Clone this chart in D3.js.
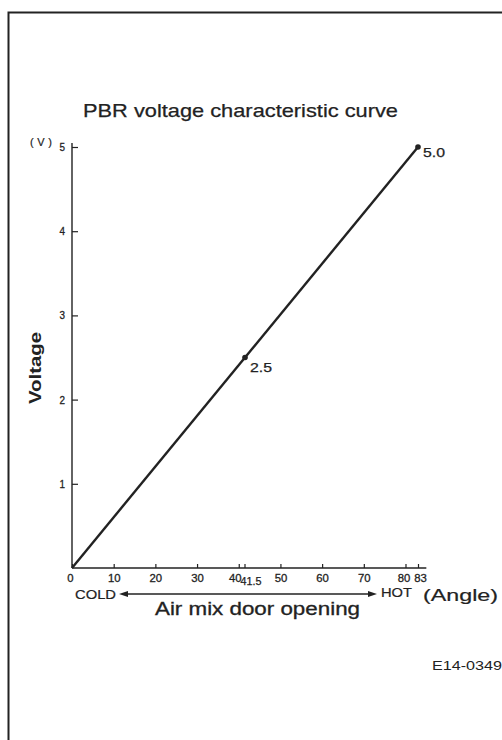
<!DOCTYPE html>
<html><head><meta charset="utf-8">
<script src="https://cdn.jsdelivr.net/npm/d3@7"></script>
<style>body{margin:0;background:#fff}svg{display:block}</style>
</head><body>
<script>
// ---- data ----
const angles = [0, 41.5, 83];
const volts = [0, 2.5, 5.0];
const pointLabels = ["", "2.5", "5.0"];
const xTickValues = [0, 10, 20, 30, 40, 50, 60, 70, 80, 83];
const xExtraTick = [41.5];
const yTickValues = [1, 2, 3, 4, 5];
const title = "PBR voltage characteristic curve";
const yTitle = "Voltage";
const yUnit = "(V)";
const xTitle = "Air mix door opening";
const xUnit = "(Angle)";
const coldLabel = "COLD", hotLabel = "HOT";
const figId = "E14-0349";

const W = 502, H = 740;
const svg = d3.select("body").append("svg").attr("width", W).attr("height", H);
const ink = "#222";
const sans = "'Liberation Sans', Arial, sans-serif";

// frame
svg.append("path").attr("d", `M8.5,740V12.5H502`).attr("fill","none").attr("stroke",ink).attr("stroke-width",2);

const x = d3.scaleLinear().domain([0, 83]).range([72, 418]);
const y = d3.scaleLinear().domain([0, 5]).range([568, 147]);

function heavy(sel, w) { return sel.attr("stroke", ink).attr("stroke-width", w).attr("paint-order", "stroke"); }

// title
heavy(svg.append("text").attr("x", 83).attr("y", 117).text(title)
  .attr("font-family", sans).attr("font-size", 19).attr("fill", ink)
  .attr("textLength", 315).attr("lengthAdjust", "spacingAndGlyphs"), 0.25);

// x axis
const xAxis = d3.axisBottom(x).tickValues(xTickValues).tickSize(-4).tickPadding(6).tickFormat(d3.format("d"));
const gx = svg.append("g").attr("transform", `translate(0,${y(0)})`).call(xAxis);
gx.select(".domain").attr("d", `M${x(0)},0H${x(85)}`).attr("stroke", ink).attr("stroke-width", 1.6);
gx.selectAll(".tick line").attr("stroke", ink).attr("stroke-width", 1.2);
heavy(gx.selectAll(".tick text").attr("font-family", sans).attr("font-size", 11.5).attr("fill", ink)
  .attr("dx", d => d === 0 ? -2 : d === 40 ? -4 : (d === 80 ? -2 : (d === 83 ? 2 : 0)))
  .attr("textLength", d => String(d).length * 6.3).attr("lengthAdjust", "spacingAndGlyphs"), 0.3);
// extra 41.5 tick
const gxe = svg.append("g");
gxe.selectAll("line").data(xExtraTick).join("line")
  .attr("x1", d => x(d)).attr("x2", d => x(d)).attr("y1", y(0)).attr("y2", y(0) - 4)
  .attr("stroke", ink).attr("stroke-width", 1.2);
heavy(gxe.selectAll("text").data(xExtraTick).join("text")
  .attr("x", d => x(d) + 6).attr("y", y(0) + 17).attr("text-anchor", "middle")
  .attr("font-family", sans).attr("font-size", 10.5).attr("fill", ink)
  .attr("textLength", 21).attr("lengthAdjust", "spacingAndGlyphs")
  .text(d => d.toFixed(1)), 0.25);

// y axis
const yAxis = d3.axisLeft(y).tickValues(yTickValues).tickSize(-6).tickPadding(7).tickFormat(d3.format("d"));
const gy = svg.append("g").attr("transform", `translate(${x(0)},0)`).call(yAxis);
gy.select(".domain").attr("d", `M0,${y(0)}V${y(5) - 4}`).attr("stroke", ink).attr("stroke-width", 1.4);
gy.selectAll(".tick line").attr("stroke", ink).attr("stroke-width", 1.2);
heavy(gy.selectAll(".tick text").attr("font-family", sans).attr("font-size", 11).attr("fill", ink)
  .attr("textLength", 5.5).attr("lengthAdjust", "spacingAndGlyphs"), 0.3);

// y unit
heavy(svg.append("text").attr("x", 30).attr("y", 146).text(yUnit)
  .attr("font-family", sans).attr("font-size", 11).attr("fill", ink)
  .attr("textLength", 22).attr("lengthAdjust", "spacing"), 0.2);

// y title
svg.append("text").attr("transform", `translate(41,368) rotate(-90)`).attr("text-anchor", "middle")
  .text(yTitle).attr("font-family", sans).attr("font-size", 17).attr("font-weight", "bold").attr("fill", ink)
  .attr("textLength", 72).attr("lengthAdjust", "spacingAndGlyphs");

// curve
const line = d3.line().x((d, i) => x(angles[i])).y((d, i) => y(volts[i]));
svg.append("path").datum(volts).attr("d", line).attr("fill", "none").attr("stroke", ink).attr("stroke-width", 2.4);
const pts = angles.map((a, i) => ({a, v: volts[i], l: pointLabels[i]})).filter(d => d.l);
svg.selectAll("circle.pt").data(pts).join("circle").attr("class", "pt")
  .attr("cx", d => x(d.a)).attr("cy", d => y(d.v)).attr("r", 2.8).attr("fill", ink);
heavy(svg.selectAll("text.pl").data(pts).join("text").attr("class", "pl")
  .attr("x", d => x(d.a) + 5).attr("y", d => y(d.v) + (d.v === 5 ? 10 : 14))
  .attr("font-family", sans).attr("font-size", 13).attr("fill", ink)
  .attr("textLength", 22).attr("lengthAdjust", "spacingAndGlyphs")
  .text(d => d.l), 0.25);

// COLD / HOT arrow
const ay = 594;
heavy(svg.append("text").attr("x", 75).attr("y", ay + 5).text(coldLabel)
  .attr("font-family", sans).attr("font-size", 12.5).attr("fill", ink)
  .attr("textLength", 41).attr("lengthAdjust", "spacingAndGlyphs"), 0.2);
svg.append("line").attr("x1", 122).attr("x2", 372).attr("y1", ay).attr("y2", ay).attr("stroke", ink).attr("stroke-width", 1.6);
svg.append("path").attr("d", `M119,${ay}l9,-3v6z`).attr("fill", ink);
svg.append("path").attr("d", `M377,${ay}l-9,-3v6z`).attr("fill", ink);
heavy(svg.append("text").attr("x", 381).attr("y", ay + 3).text(hotLabel)
  .attr("font-family", sans).attr("font-size", 12.5).attr("fill", ink)
  .attr("textLength", 31).attr("lengthAdjust", "spacingAndGlyphs"), 0.2);
heavy(svg.append("text").attr("x", 423).attr("y", ay + 7).text(xUnit)
  .attr("font-family", sans).attr("font-size", 17).attr("fill", ink)
  .attr("textLength", 75).attr("lengthAdjust", "spacingAndGlyphs"), 0.2);
heavy(svg.append("text").attr("x", 155).attr("y", 615).text(xTitle)
  .attr("font-family", sans).attr("font-size", 18).attr("fill", ink)
  .attr("textLength", 205).attr("lengthAdjust", "spacingAndGlyphs"), 0.3);

// figure id
svg.append("text").attr("x", 432).attr("y", 670).text(figId)
  .attr("font-family", sans).attr("font-size", 13.5).attr("fill", ink)
  .attr("textLength", 70).attr("lengthAdjust", "spacingAndGlyphs");
</script>
</body></html>
